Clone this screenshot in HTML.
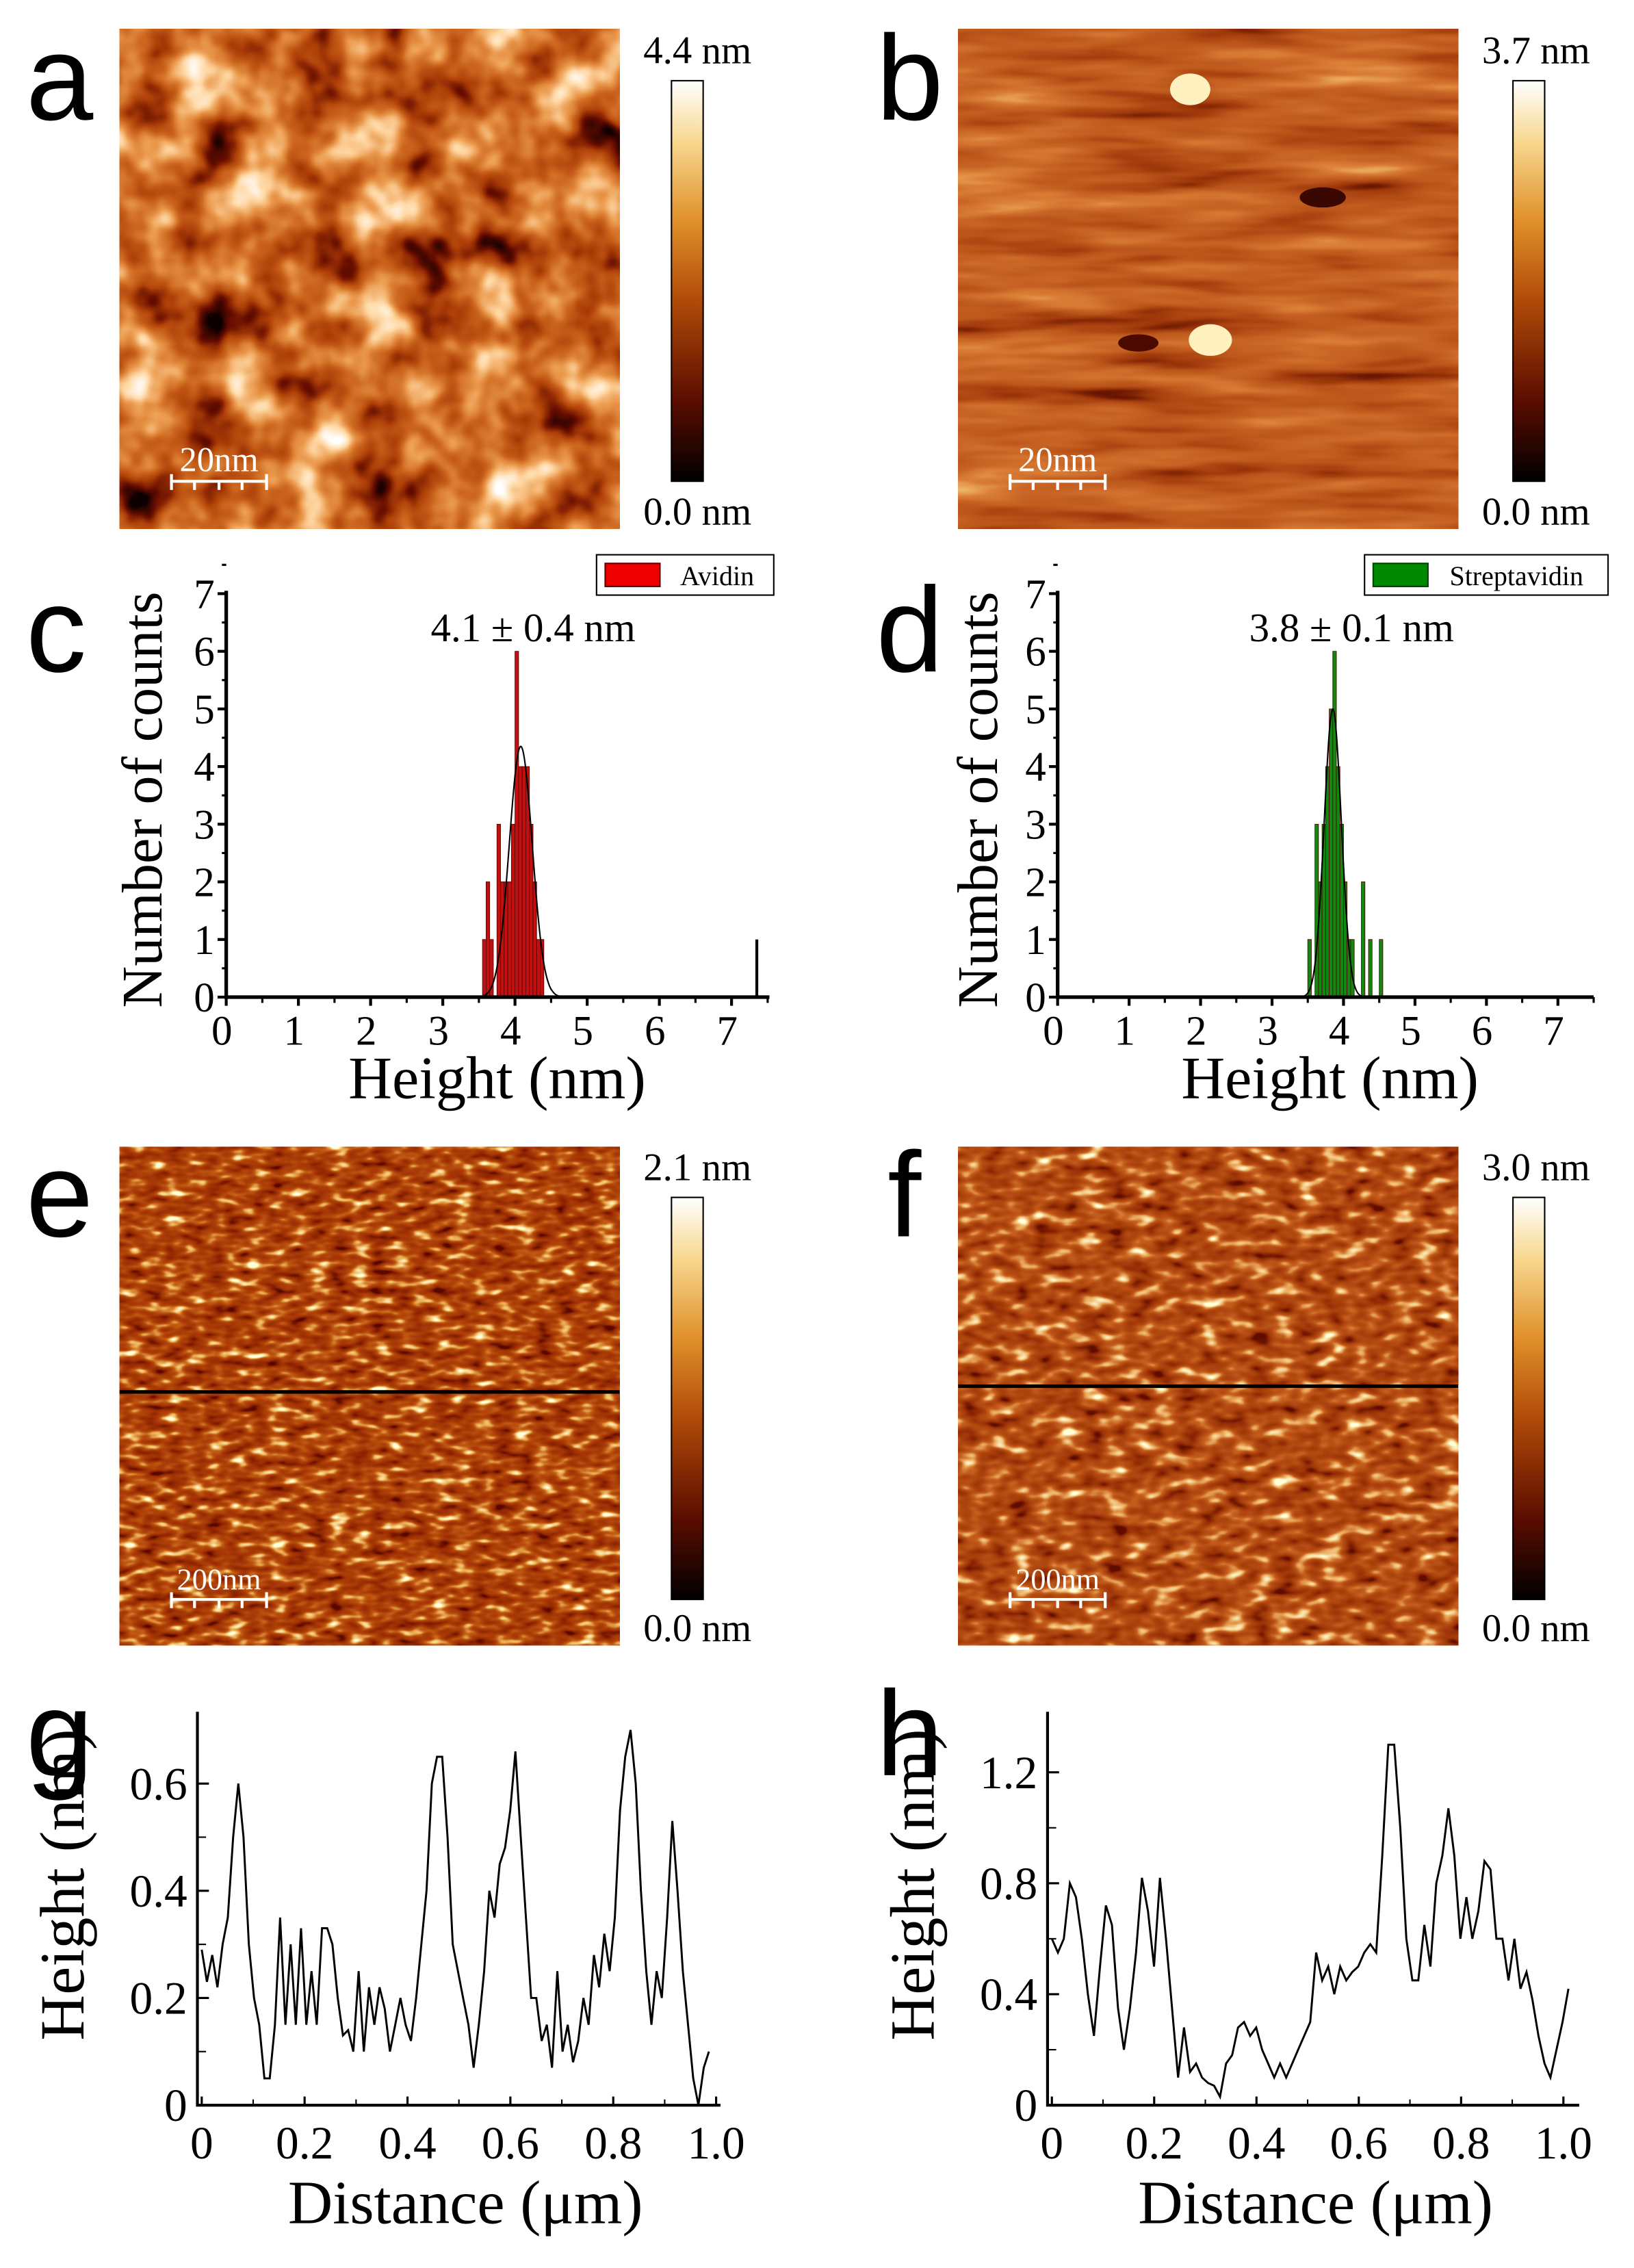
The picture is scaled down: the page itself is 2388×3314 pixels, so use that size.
<!DOCTYPE html>
<html><head><meta charset="utf-8">
<style>
html,body{margin:0;padding:0;background:#fff;}
svg{display:block}
text{font-family:"Liberation Serif",serif;fill:#000}
.lbl{font-family:"Liberation Sans",sans-serif;font-size:84px}
filter{color-interpolation-filters:sRGB}
</style></head>
<body>
<svg id="s" width="2388" height="3314" viewBox="0 0 1134 1574" preserveAspectRatio="none" xmlns="http://www.w3.org/2000/svg">
<defs>
<linearGradient id="cb" x1="0" y1="1" x2="0" y2="0">
<stop offset="0" stop-color="#000"/><stop offset="0.2" stop-color="#5a0d00"/>
<stop offset="0.45" stop-color="#b04a08"/><stop offset="0.65" stop-color="#e0902a"/>
<stop offset="0.85" stop-color="#f8d890"/><stop offset="1" stop-color="#fff"/>
</linearGradient>
<filter id="fa" x="0" y="0" width="100%" height="100%" color-interpolation-filters="sRGB">
<feTurbulence type="fractalNoise" baseFrequency="0.025" numOctaves="3" seed="3"/>
<feColorMatrix type="matrix" values="1.4 0 0 0 -0.2 1.4 0 0 0 -0.2 1.4 0 0 0 -0.2 0 0 0 0 1"/>
<feComponentTransfer><feFuncR type="table" tableValues="0.05 0.4 0.68 0.8 0.92 1 1"/><feFuncG type="table" tableValues="0 0.05 0.25 0.4 0.6 0.85 1"/><feFuncB type="table" tableValues="0 0 0.03 0.12 0.3 0.65 1"/></feComponentTransfer>
</filter>
<filter id="fb" x="0" y="0" width="100%" height="100%" color-interpolation-filters="sRGB">
<feTurbulence type="fractalNoise" baseFrequency="0.008 0.06" numOctaves="3" seed="7"/>
<feColorMatrix type="matrix" values="1.3 0 0 0 -0.15 1.3 0 0 0 -0.15 1.3 0 0 0 -0.15 0 0 0 0 1"/>
<feComponentTransfer><feFuncR type="table" tableValues="0.35 0.62 0.73 0.79 0.86 0.95"/><feFuncG type="table" tableValues="0.05 0.22 0.33 0.4 0.5 0.75"/><feFuncB type="table" tableValues="0 0.04 0.1 0.15 0.22 0.45"/></feComponentTransfer>
</filter>
<filter id="fe" x="0" y="0" width="100%" height="100%" color-interpolation-filters="sRGB">
<feTurbulence type="fractalNoise" baseFrequency="0.07 0.16" numOctaves="2" seed="11"/>
<feColorMatrix type="matrix" values="1.6 0 0 0 -0.3 1.6 0 0 0 -0.3 1.6 0 0 0 -0.3 0 0 0 0 1"/>
<feComponentTransfer><feFuncR type="table" tableValues="0.35 0.55 0.63 0.68 0.76 0.93 1"/><feFuncG type="table" tableValues="0.03 0.14 0.2 0.25 0.36 0.7 1"/><feFuncB type="table" tableValues="0 0 0.02 0.03 0.08 0.35 0.85"/></feComponentTransfer>
</filter>
<filter id="ff" x="0" y="0" width="100%" height="100%" color-interpolation-filters="sRGB">
<feTurbulence type="fractalNoise" baseFrequency="0.06 0.12" numOctaves="2" seed="5"/>
<feColorMatrix type="matrix" values="1.6 0 0 0 -0.3 1.6 0 0 0 -0.3 1.6 0 0 0 -0.3 0 0 0 0 1"/>
<feComponentTransfer><feFuncR type="table" tableValues="0.38 0.57 0.65 0.7 0.78 0.93 1"/><feFuncG type="table" tableValues="0.05 0.17 0.24 0.29 0.38 0.7 1"/><feFuncB type="table" tableValues="0 0.02 0.04 0.07 0.12 0.4 0.85"/></feComponentTransfer>
</filter>
</defs>
<rect width="1134" height="1574" fill="#fff"/>

<!-- a -->
<text class="lbl" x="18" y="83">a</text>
<rect x="83" y="20" width="347" height="347" filter="url(#fa)"/>
<rect x="466" y="56" width="22" height="278" fill="url(#cb)" stroke="#000" stroke-width="1"/>
<text x="484" y="44" font-size="27" text-anchor="middle">4.4 nm</text>
<text x="484" y="364" font-size="27" text-anchor="middle">0.0 nm</text>
<!-- b -->
<text class="lbl" x="608" y="83">b</text>
<rect x="665" y="20" width="347" height="347" filter="url(#fb)"/>
<ellipse cx="826" cy="62" rx="14" ry="11" fill="#fff0c0"/>
<ellipse cx="840" cy="236" rx="15" ry="11" fill="#fff0c0"/>
<ellipse cx="918" cy="137" rx="16" ry="7" fill="#3a0800"/>
<ellipse cx="790" cy="238" rx="14" ry="6" fill="#4a0a00"/>
<rect x="1050" y="56" width="22" height="278" fill="url(#cb)" stroke="#000" stroke-width="1"/>
<text x="1066" y="44" font-size="27" text-anchor="middle">3.7 nm</text>
<text x="1066" y="364" font-size="27" text-anchor="middle">0.0 nm</text>
<g fill="#fff" stroke="#fff">
<text x="152" y="327" font-size="24" text-anchor="middle" style="fill:#fff" stroke="none">20nm</text>
<path d="M119 334 H185 M119 329 V340 M135 334 V340 M152 334 V340 M168 334 V340 M185 329 V340" stroke-width="2" fill="none"/>
</g>
<g transform="translate(582,0)" fill="#fff" stroke="#fff">
<text x="152" y="327" font-size="24" text-anchor="middle" style="fill:#fff" stroke="none">20nm</text>
<path d="M119 334 H185 M119 329 V340 M135 334 V340 M152 334 V340 M168 334 V340 M185 329 V340" stroke-width="2" fill="none"/>
</g>

<!-- c -->
<text class="lbl" x="18" y="466">c</text>
<rect x="414" y="385" width="123" height="28" fill="#fff" stroke="#000"/>
<rect x="420" y="391" width="38" height="16" fill="#e00" stroke="#600"/>
<text x="472" y="406" font-size="19">Avidin</text>
<text x="370" y="445" font-size="28" text-anchor="middle">4.1 ± 0.4 nm</text>
<text transform="translate(112,555) rotate(-90)" font-size="40" text-anchor="middle">Number of counts</text>
<text x="345" y="762" font-size="42" text-anchor="middle">Height (nm)</text>
<g id="gc"></g>
<!-- d -->
<text class="lbl" x="608" y="466">d</text>
<rect x="947" y="385" width="169" height="28" fill="#fff" stroke="#000"/>
<rect x="953" y="391" width="38" height="16" fill="#080" stroke="#040"/>
<text x="1006" y="406" font-size="19">Streptavidin</text>
<text x="938" y="445" font-size="28" text-anchor="middle">3.8 ± 0.1 nm</text>
<text transform="translate(692,555) rotate(-90)" font-size="40" text-anchor="middle">Number of counts</text>
<text x="923" y="762" font-size="42" text-anchor="middle">Height (nm)</text>
<g id="gd"></g>

<!-- e -->
<text class="lbl" x="18" y="858">e</text>
<rect x="83" y="796" width="347" height="346" filter="url(#fe)"/>
<line x1="83" y1="966" x2="430" y2="966" stroke="#000" stroke-width="2.5"/>
<rect x="466" y="831" width="22" height="279" fill="url(#cb)" stroke="#000"/>
<text x="484" y="819" font-size="27" text-anchor="middle">2.1 nm</text>
<text x="484" y="1139" font-size="27" text-anchor="middle">0.0 nm</text>
<g transform="translate(0,776)" fill="#fff" stroke="#fff">
<text x="152" y="327" font-size="21" text-anchor="middle" style="fill:#fff" stroke="none">200nm</text>
<path d="M119 334 H185 M119 329 V340 M135 334 V340 M152 334 V340 M168 334 V340 M185 329 V340" stroke-width="2" fill="none"/>
</g>
<!-- f -->
<text class="lbl" x="616" y="858">f</text>
<rect x="665" y="796" width="347" height="346" filter="url(#ff)"/>
<line x1="665" y1="962" x2="1012" y2="962" stroke="#000" stroke-width="2.5"/>
<rect x="1050" y="831" width="22" height="279" fill="url(#cb)" stroke="#000"/>
<text x="1066" y="819" font-size="27" text-anchor="middle">3.0 nm</text>
<text x="1066" y="1139" font-size="27" text-anchor="middle">0.0 nm</text>
<g transform="translate(582,776)" fill="#fff" stroke="#fff">
<text x="152" y="327" font-size="21" text-anchor="middle" style="fill:#fff" stroke="none">200nm</text>
<path d="M119 334 H185 M119 329 V340 M135 334 V340 M152 334 V340 M168 334 V340 M185 329 V340" stroke-width="2" fill="none"/>
</g>

<!-- g -->
<text class="lbl" x="18" y="1232">g</text>
<text transform="translate(58,1308) rotate(-90)" font-size="44" text-anchor="middle">Height (nm)</text>
<text x="323" y="1543" font-size="43" text-anchor="middle">Distance (μm)</text>
<g id="gg"></g>
<!-- h -->
<text class="lbl" x="608" y="1232">h</text>
<text transform="translate(648,1308) rotate(-90)" font-size="44" text-anchor="middle">Height (nm)</text>
<text x="913" y="1543" font-size="43" text-anchor="middle">Distance (μm)</text>
<g id="gh"></g>
</svg>
<script>
var NS="http://www.w3.org/2000/svg";
function el(p,t,a,txt){var e=document.createElementNS(NS,t);for(var k in a)e.setAttribute(k,a[k]);if(txt!==undefined)e.textContent=txt;p.appendChild(e);return e;}
function hist(id,x0,xu,xend,bars,col,mu,sd,amp,extra){
 var g=document.getElementById(id), y0=692, yu=40;
 bars.forEach(function(b){ if(b[1]>0) el(g,'rect',{x:x0+b[0]*xu,y:y0-b[1]*yu,width:0.05*xu,height:b[1]*yu,fill:col,stroke:'#500','stroke-width':0.4});});
 if(extra) el(g,'line',{x1:x0+extra*xu,y1:y0,x2:x0+extra*xu,y2:y0-yu,stroke:'#000','stroke-width':2});
 var d='';for(var h=mu-0.6;h<=mu+0.6;h+=0.01){var v=amp*Math.exp(-(h-mu)*(h-mu)/(2*sd*sd));d+=(d?'L':'M')+(x0+h*xu).toFixed(1)+' '+(y0-v*yu).toFixed(1);}
 el(g,'path',{d:d,fill:'none',stroke:'#000','stroke-width':1});
 el(g,'path',{d:'M'+x0+' '+(y0-7*yu-2)+'V'+y0+'H'+xend,fill:'none',stroke:'#000','stroke-width':2.5});
 for(var i=0;i<=7;i++){el(g,'line',{x1:x0-6,y1:y0-i*yu,x2:x0,y2:y0-i*yu,stroke:'#000','stroke-width':2});
  el(g,'line',{x1:x0-3,y1:y0-(i+0.5)*yu,x2:x0,y2:y0-(i+0.5)*yu,stroke:'#000','stroke-width':1.5});
  el(g,'text',{x:x0-8,y:y0-i*yu+10,'font-size':29,'text-anchor':'end'},i);
  el(g,'line',{x1:x0+i*xu,y1:y0,x2:x0+i*xu,y2:y0+6,stroke:'#000','stroke-width':2});
  el(g,'line',{x1:x0+(i+0.5)*xu,y1:y0,x2:x0+(i+0.5)*xu,y2:y0+4,stroke:'#000','stroke-width':1.5});
  el(g,'text',{x:x0+i*xu-3,y:y0+33,'font-size':29,'text-anchor':'middle'},i);}
}
var av=[[3.55,1],[3.6,2],[3.65,1],[3.75,3],[3.8,2],[3.85,2],[3.9,2],[3.95,3],[4.0,6],[4.05,4],[4.1,4],[4.15,4],[4.2,3],[4.25,2],[4.3,1],[4.35,1]];
hist('gc',157,50.1,534,av,'#c01010',4.08,0.16,4.35,7.35);
var st=[[3.5,1],[3.6,3],[3.65,2],[3.7,3],[3.75,4],[3.8,5],[3.85,6],[3.9,4],[3.95,3],[4.0,2],[4.05,1],[4.1,1],[4.25,2],[4.35,1],[4.5,1]];
hist('gd',734,49.6,1106,st,'#118811',3.85,0.12,5,null);
function prof(id,x0,xu,x1end,data,endx,ticksY,yu,ytop,lab){
 var g=document.getElementById(id),y0=1461;
 var d='';var n=data.length;data.forEach(function(v,i){var x=x0+endx*i/(n-1)*xu;d+=(i?'L':'M')+x.toFixed(1)+' '+(y0-v*yu).toFixed(1);});
 el(g,'path',{d:d,fill:'none',stroke:'#000','stroke-width':1.4});
 el(g,'path',{d:'M'+(x0-3)+' '+ytop+'V'+y0+'H'+x1end,fill:'none',stroke:'#000','stroke-width':2});
 ticksY.forEach(function(t,i){el(g,'line',{x1:x0-3,y1:y0-t*yu,x2:x0+5,y2:y0-t*yu,stroke:'#000','stroke-width':1.5});
  el(g,'text',{x:x0-10,y:y0-t*yu+11,'font-size':32,'text-anchor':'end'},lab[i]);});
 for(var k=0;k<ticksY.length-1;k++){var m=(ticksY[k]+ticksY[k+1])/2;el(g,'line',{x1:x0-3,y1:y0-m*yu,x2:x0+3,y2:y0-m*yu,stroke:'#000','stroke-width':1});}
 var xl=['0','0.2','0.4','0.6','0.8','1.0'];
 for(var i=0;i<=5;i++){var x=x0+0.2*i*xu;el(g,'line',{x1:x,y1:y0,x2:x,y2:y0-6,stroke:'#000','stroke-width':1.5});
  el(g,'text',{x:x,y:y0+37,'font-size':32,'text-anchor':'middle'},xl[i]);
  if(i<5)el(g,'line',{x1:x+0.1*xu,y1:y0,x2:x+0.1*xu,y2:y0-4,stroke:'#000','stroke-width':1});}
}
var gd=[0.29,0.23,0.28,0.22,0.3,0.35,0.5,0.6,0.5,0.3,0.2,0.15,0.05,0.05,0.15,0.35,0.15,0.3,0.15,0.33,0.15,0.25,0.15,0.33,0.33,0.3,0.2,0.13,0.14,0.1,0.25,0.1,0.22,0.15,0.22,0.18,0.1,0.15,0.2,0.15,0.12,0.2,0.3,0.4,0.6,0.65,0.65,0.5,0.3,0.25,0.2,0.15,0.07,0.15,0.25,0.4,0.35,0.45,0.48,0.55,0.66,0.5,0.35,0.2,0.2,0.12,0.15,0.07,0.25,0.1,0.15,0.08,0.12,0.2,0.15,0.28,0.22,0.32,0.25,0.35,0.55,0.65,0.7,0.6,0.4,0.25,0.15,0.25,0.2,0.35,0.53,0.4,0.25,0.15,0.05,0.0,0.07,0.1];
prof('gg',140,357,500,gd,0.986,[0,0.2,0.4,0.6],372,1188,['0','0.2','0.4','0.6']);
var hd=[0.6,0.55,0.6,0.8,0.75,0.6,0.4,0.25,0.5,0.72,0.65,0.35,0.2,0.35,0.55,0.82,0.7,0.5,0.82,0.6,0.35,0.1,0.28,0.12,0.15,0.1,0.08,0.07,0.03,0.15,0.18,0.28,0.3,0.25,0.28,0.2,0.15,0.1,0.15,0.1,0.15,0.2,0.25,0.3,0.55,0.45,0.5,0.4,0.5,0.45,0.48,0.5,0.55,0.58,0.55,0.9,1.3,1.3,1.0,0.6,0.45,0.45,0.65,0.5,0.8,0.9,1.07,0.9,0.6,0.75,0.6,0.7,0.88,0.85,0.6,0.6,0.45,0.6,0.42,0.48,0.38,0.25,0.15,0.1,0.2,0.3,0.42];
prof('gh',730,355,1096,hd,1.01,[0,0.4,0.8,1.2],192.5,1188,['0','0.4','0.8','1.2']);
</script>
</body></html>
